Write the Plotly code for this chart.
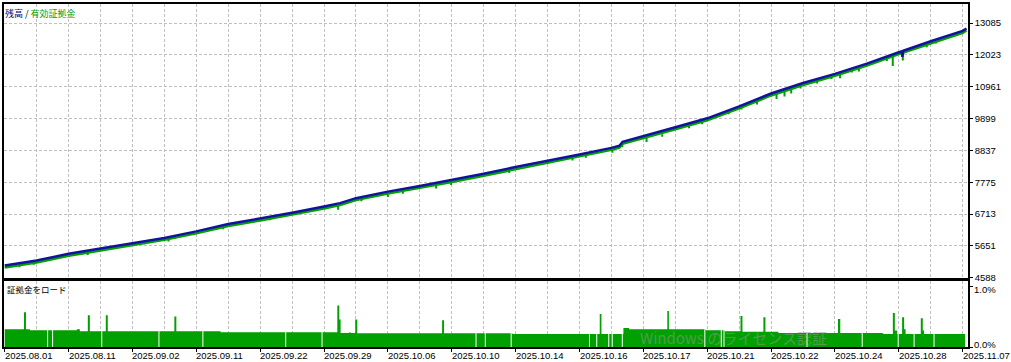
import plotly.graph_objects as go

# ---------------- data (x = deal-axis position, one unit per vertical grid step) -------------
date_labels = ["2025.08.01", "2025.08.11", "2025.09.02", "2025.09.11", "2025.09.22",
               "2025.09.29", "2025.10.06", "2025.10.10", "2025.10.14", "2025.10.16",
               "2025.10.17", "2025.10.21", "2025.10.22", "2025.10.24", "2025.10.28",
               "2025.11.07"]

y_ticks = [4588, 5651, 6713, 7775, 8837, 9899, 10961, 12023, 13085]
load_ticks = [0.0, 1.0]
load_tick_text = ["0.0%", "1.0%"]

balance_x = [0, 1, 2, 3, 4, 5, 6, 7, 8, 9, 10, 10.5, 11, 12, 13, 14, 15, 16, 17, 18, 19,
             19.25, 19.35, 20, 21, 22, 23, 24, 25, 26, 27, 28, 28.09, 28.11, 28.14,
             29, 30, 30.12]
balance_y = [4996, 5162, 5385, 5551, 5736, 5916, 6135, 6380, 6566, 6755, 6964, 7077,
             7243, 7462, 7651, 7851, 8060, 8282, 8481, 8704, 8923, 8993, 9125,
             9311, 9610, 9909, 10307, 10738, 11087, 11392, 11734, 12115, 12146, 11960, 12166,
             12482, 12829, 12906]

equity_x = [0, 1, 2, 3, 4, 5, 6, 7, 8, 9, 10, 10.5, 11, 12, 13, 14, 15, 16, 17, 18, 19,
            19.25, 19.35, 20, 21, 22, 23, 24, 25, 26, 27, 28, 29, 30, 30.12]
equity_y = [4930, 5098, 5318, 5487, 5670, 5851, 6068, 6314, 6500, 6690, 6898, 7010,
            7178, 7396, 7585, 7786, 7994, 8217, 8415, 8638, 8856, 8927, 9059,
            9245, 9544, 9843, 10240, 10672, 11020, 11326, 11668, 12050, 12415, 12762, 12840]

# equity drawdown spikes: position, equity before spike, equity low
dip_x = [0.46, 0.91, 2.29, 2.60, 3.02, 4.38, 5.13, 5.33, 5.85, 6.84, 8.30, 10.44, 11.17,
         12.0, 12.47, 13.51, 13.98, 15.80, 17.78, 18.2, 19.03, 19.34, 20.10, 20.59, 21.43,
         21.84, 22.67, 23.07, 23.56, 24.17, 24.42, 24.63, 24.92, 25.44, 25.89, 26.16,
         26.53, 26.75, 27.625, 27.81, 28.125, 28.875, 29.16, 29.82]
dip_top = [5029, 5112, 5478, 5420, 5577, 5793, 5879, 5975, 6108, 6275, 6589, 7011, 7215,
           7369, 7469, 7651, 7768, 8166, 8581, 8682, 8863, 9050, 9261, 9377, 9659,
           9795, 10107, 10273, 10473, 10755, 10838, 10891, 10987, 11155, 11286, 11381,
           11502, 11582, 11907, 11999, 12060, 12381, 12481, 12713]
dip_low = [4940, 5019, 5361, 5350, 5484, 5703, 5800, 5892, 6042, 6205, 6506, 6855, 7140,
           7286, 7393, 7562, 7685, 8083, 8498, 8590, 8757, 8940, 9122, 9294, 9576,
           9710, 10041, 10207, 10373, 10556, 10639, 10740, 10904, 11070, 11219, 11250,
           11435, 11470, 11820, 11657, 11843, 12281, 12408, 12653]

# margin load (%) as steps: each value holds from its x until the next x
load_x = [0, 0.603, 0.666, 0.791, 2.259, 2.353, 2.603, 2.666, 3.166, 3.228, 5.3125, 5.375,
          6.759, 10.416, 10.478, 10.519, 10.791, 10.831, 10.978, 11.041, 13.697, 13.759,
          15.9, 18.634, 18.687, 19.375, 19.55, 20.75, 20.8, 21.947, 22.541, 23.041, 23.103,
          23.759, 23.822, 24.228, 26.094, 26.166, 27.5, 27.8125, 27.875, 27.947, 28.103,
          28.166, 28.2125, 28.6875, 28.75, 28.791, 30.072]
load_pct = [0.29, 0.57, 0.29, 0.274, 0.29, 0.258, 0.52, 0.258, 0.52, 0.258, 0.50, 0.258,
            0.24, 0.68, 0.45, 0.23, 0.24, 0.23, 0.45, 0.225, 0.44, 0.225,
            0.215, 0.54, 0.215, 0.31, 0.29, 0.59, 0.29, 0.274, 0.258, 0.51, 0.25,
            0.49, 0.25, 0.23, 0.46, 0.23, 0.215, 0.56, 0.27, 0.215, 0.49,
            0.29, 0.215, 0.47, 0.27, 0.215, 0.215]
# thin breaks between load bars
gap_x = [1.344, 1.5, 3.04, 4.83, 6.206, 8.8, 9.9375, 14.76, 15.05, 15.86, 18.3125, 18.54,
         18.916, 19.025, 19.34, 21.925, 22.44, 22.525, 25.125, 26.853, 27.98, 28.478, 29.103]

# ---------------- style ----------------
BLUE = "#1212A0"
GREEN = "#00A000"
GRID = "#C0C0C0"
LABEL_FONT = dict(family="Liberation Sans, Arial, sans-serif", size=9.5, color="black")
JP_FONT = "Noto Sans CJK JP"
X_RANGE = [-0.022, 30.166]
TOP_DOMAIN = [0.202, 1.0]
BOTTOM_DOMAIN = [0.0, 0.1913]

fig = go.Figure()

# margin load area
fig.add_trace(go.Scatter(
    x=load_x, y=load_pct, mode="lines", line=dict(shape="hv", width=0, color=GREEN),
    fill="tozeroy", fillcolor=GREEN, xaxis="x2", yaxis="y2", hoverinfo="skip"))

gx, gy = [], []
for g in gap_x:
    gx += [g, g, None]
    gy += [0, 0.3, None]
fig.add_trace(go.Scatter(x=gx, y=gy, mode="lines", line=dict(color="white", width=1),
                         xaxis="x2", yaxis="y2", hoverinfo="skip"))

# equity line + spikes
fig.add_trace(go.Scatter(x=equity_x, y=equity_y, mode="lines",
                         line=dict(color=GREEN, width=2.5), hoverinfo="skip"))
dx, dy = [], []
for xv, t, b in zip(dip_x, dip_top, dip_low):
    dx += [xv, xv, None]
    dy += [t, b, None]
fig.add_trace(go.Scatter(x=dx, y=dy, mode="lines", line=dict(color=GREEN, width=2),
                         hoverinfo="skip"))

# balance line
fig.add_trace(go.Scatter(x=balance_x, y=balance_y, mode="lines",
                         line=dict(color=BLUE, width=2.5), hoverinfo="skip"))

axis_common = dict(showline=True, mirror=True, linecolor="black", linewidth=1.5,
                   zeroline=False)

fig.update_layout(
    width=1011, height=362,
    margin=dict(l=2, r=43, t=2, b=15),
    paper_bgcolor="white", plot_bgcolor="white",
    showlegend=False,
    xaxis=dict(domain=[0, 1], anchor="y", range=X_RANGE,
               tickmode="linear", tick0=0, dtick=1, showticklabels=False, ticks="",
               showgrid=True, gridcolor=GRID, griddash="3px,2px", gridwidth=1,
               **axis_common),
    yaxis=dict(domain=TOP_DOMAIN, anchor="x", side="right", range=[4588, 13725],
               tickvals=y_ticks, ticktext=[str(v) for v in y_ticks],
               ticks="outside", ticklen=3, tickcolor="black", tickfont=LABEL_FONT,
               showgrid=True, gridcolor=GRID, griddash="3px,2px", gridwidth=1,
               **axis_common),
    xaxis2=dict(domain=[0, 1], anchor="y2", range=X_RANGE,
                tickvals=[2 * i for i in range(len(date_labels))],
                showticklabels=False, ticks="outside", ticklen=3, tickcolor="black",
                showgrid=True, gridcolor=GRID, griddash="3px,2px", gridwidth=1,
                minor=dict(tickmode="linear", tick0=0, dtick=1, showgrid=True,
                           gridcolor=GRID, griddash="3px,2px", gridwidth=1, ticks=""),
                **axis_common),
    yaxis2=dict(domain=BOTTOM_DOMAIN, anchor="x2", side="right", range=[0, 1.077],
                tickvals=load_ticks, showticklabels=False,
                ticks="outside", ticklen=3, tickcolor="black",
                showgrid=False, **axis_common),
)

annotations = []
for i, lab in enumerate(date_labels):
    annotations.append(dict(x=2 * i, y=0, xref="x2", yref="paper", text=lab,
                            showarrow=False, xanchor="left", yanchor="middle",
                            xshift=-2, yshift=-8, font=LABEL_FONT))

# load-axis labels (placed as annotations so they do not collide with neighbours)
for val, txt, shift in zip(load_ticks, load_tick_text, [3, -3]):
    annotations.append(dict(x=1, y=val, xref="paper", yref="y2", text=txt,
                            showarrow=False, xanchor="left", yanchor="middle",
                            xshift=4, yshift=shift, font=LABEL_FONT))

annotations.append(dict(
    x=0, y=0.972, xref="paper", yref="paper", xanchor="left", yanchor="middle",
    xshift=-1, showarrow=False,
    text="<span style='color:#000080'>残高</span><span style='color:#000000'> / </span>"
         "<span style='color:#00A000'>有効証拠金</span>",
    font=dict(family=JP_FONT, size=9)))
annotations.append(dict(
    x=0, y=0.170, xref="paper", yref="paper", xanchor="left", yanchor="middle",
    xshift=1, showarrow=False, text="証拠金をロード",
    font=dict(family=JP_FONT, size=8.5, color="black")))

# OS activation watermark visible in the reference screenshot
annotations.append(dict(
    x=0.658, y=0.027, xref="paper", yref="paper", xanchor="left", yanchor="middle",
    showarrow=False, text="Windows のライセンス認証",
    font=dict(family=JP_FONT, size=15, color="rgba(150,150,150,0.55)")))

fig.update_layout(annotations=annotations)

fig.write_html("out.html")
